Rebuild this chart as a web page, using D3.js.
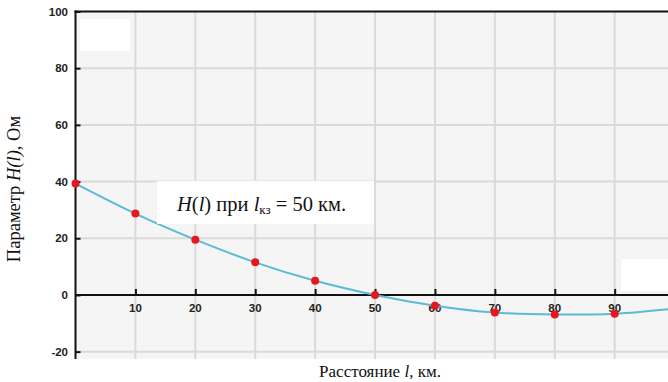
<!DOCTYPE html>
<html><head><meta charset="utf-8">
<script src="https://cdn.jsdelivr.net/npm/d3@7/dist/d3.min.js"></script>
<style>body{margin:0;background:#fff}svg{display:block}</style>
</head><body>
<script>
const distances = [0, 10, 20, 30, 40, 50, 60, 70, 80, 90];
const hValues = [39.3, 28.7, 19.5, 11.5, 5.0, 0, -3.8, -6.2, -6.9, -6.6];
const curveTailX = [99];
const curveTailY = [-5.0];
const xTicks = [10, 20, 30, 40, 50, 60, 70, 80, 90];
const yTicks = [-20, 0, 20, 40, 60, 80, 100];

const W = 668, H = 382;
const svg = d3.select("body").append("svg").attr("width", W).attr("height", H);
const pLeft = 75.5, pTop = 11.5, pRight = 668, pBottom = 359;
const x = d3.scaleLinear().domain([0, 98.9]).range([pLeft, pRight]);
const y = d3.scaleLinear().domain([100, -22.6]).range([pTop, pBottom]);

svg.append("rect").attr("x", pLeft).attr("y", pTop).attr("width", pRight - pLeft).attr("height", pBottom - pTop).attr("fill", "#f5f5f5");

// grid
svg.append("g").selectAll("line").data(xTicks).join("line")
  .attr("x1", d => x(d)).attr("x2", d => x(d)).attr("y1", pTop).attr("y2", pBottom)
  .attr("stroke", "#dadada").attr("stroke-width", 2);
svg.append("g").selectAll("line").data(yTicks.filter(d => d !== 0 && d !== 100)).join("line")
  .attr("x1", pLeft).attr("x2", pRight).attr("y1", d => y(d)).attr("y2", d => y(d))
  .attr("stroke", "#dadada").attr("stroke-width", 2);

// white patches
svg.append("rect").attr("x", 80).attr("y", 19).attr("width", 50).attr("height", 32).attr("fill", "#fff");
svg.append("rect").attr("x", 621).attr("y", 259).attr("width", 47).attr("height", 32).attr("fill", "#fff");

// top border
svg.append("line").attr("x1", pLeft - 1).attr("x2", pRight).attr("y1", pTop).attr("y2", pTop).attr("stroke", "#111").attr("stroke-width", 2);

// y axis
const yAxis = d3.axisRight(y).tickValues(yTicks).tickSize(5).tickFormat("");
const gy = svg.append("g").attr("transform", `translate(${pLeft},0)`).call(yAxis);
gy.select(".domain").remove();
gy.selectAll("line").attr("stroke", "#111").attr("stroke-width", 2);
svg.append("line").attr("x1", pLeft).attr("x2", pLeft).attr("y1", pTop - 1).attr("y2", pBottom).attr("stroke", "#111").attr("stroke-width", 2);
svg.append("g").selectAll("text").data(yTicks).join("text")
  .attr("x", 68).attr("y", d => y(d) + 4).attr("text-anchor", "end")
  .attr("font-family", "Liberation Sans, Arial").attr("font-weight", "bold").attr("font-size", 11.5)
  .attr("fill", "#222").text(d => d);

// x axis at zero
const xAxis = d3.axisTop(x).tickValues(xTicks).tickSize(6).tickFormat("");
const gx = svg.append("g").attr("transform", `translate(0,${y(0)})`).call(xAxis);
gx.select(".domain").remove();
gx.selectAll("line").attr("stroke", "#111").attr("stroke-width", 2);
svg.append("line").attr("x1", pLeft).attr("x2", pRight).attr("y1", y(0)).attr("y2", y(0)).attr("stroke", "#111").attr("stroke-width", 2);
svg.append("g").selectAll("text").data(xTicks).join("text")
  .attr("x", d => x(d)).attr("y", y(0) + 17).attr("text-anchor", "middle")
  .attr("font-family", "Liberation Sans, Arial").attr("font-weight", "bold").attr("font-size", 11.5)
  .attr("fill", "#222").text(d => d);

// curve
const pts = distances.map((d, i) => [d, hValues[i]]).concat(curveTailX.map((d, i) => [d, curveTailY[i]]));
const line = d3.line().x(d => x(d[0])).y(d => y(d[1])).curve(d3.curveNatural);
svg.append("path").attr("d", line(pts)).attr("fill", "none").attr("stroke", "#5bbad8").attr("stroke-width", 2);

// points
svg.append("g").selectAll("circle").data(distances).join("circle")
  .attr("cx", d => x(d)).attr("cy", (d, i) => y(hValues[i])).attr("r", 4).attr("fill", "#e8161e");

// legend
svg.append("rect").attr("x", 157).attr("y", 181).attr("width", 217).attr("height", 43).attr("fill", "#fff");
const lt = svg.append("text").attr("x", 177).attr("y", 211).attr("font-family", "Liberation Serif, Times New Roman").attr("font-size", 20.5).attr("fill", "#111");
lt.append("tspan").attr("font-style", "italic").text("H");
lt.append("tspan").text("(");
lt.append("tspan").attr("font-style", "italic").text("l");
lt.append("tspan").text(")");
lt.append("tspan").text(" при ");
lt.append("tspan").attr("font-style", "italic").text("l");
lt.append("tspan").attr("font-size", 13).attr("dy", 3).text("кз");
lt.append("tspan").attr("dy", -3).text(" = 50 км.");

// axis titles
const yl = svg.append("text").attr("transform", "translate(20,189) rotate(-90)").attr("text-anchor", "middle")
  .attr("font-family", "Liberation Serif, Times New Roman").attr("font-size", 18.5).attr("fill", "#111");
yl.append("tspan").text("Параметр ");
yl.append("tspan").attr("font-style", "italic").text("H(l)");
yl.append("tspan").text(", Ом");

const xl = svg.append("text").attr("x", 380).attr("y", 377).attr("text-anchor", "middle")
  .attr("font-family", "Liberation Serif, Times New Roman").attr("font-size", 17).attr("fill", "#111");
xl.append("tspan").text("Расстояние ");
xl.append("tspan").attr("font-style", "italic").text("l");
xl.append("tspan").text(", км.");
</script>
</body></html>
